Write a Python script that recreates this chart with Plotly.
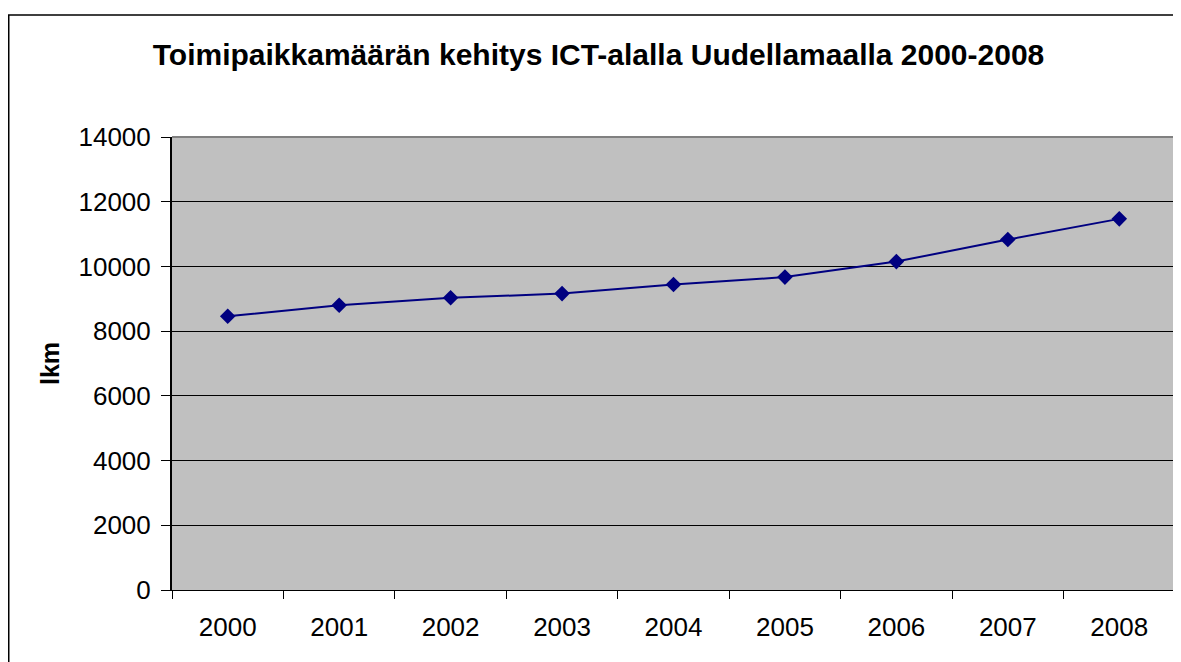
import plotly.graph_objects as go

years = ["2000", "2001", "2002", "2003", "2004", "2005", "2006", "2007", "2008"]
counts = [8460, 8800, 9030, 9160, 9440, 9670, 10150, 10830, 11470]
y_ticks = [0, 2000, 4000, 6000, 8000, 10000, 12000, 14000]

title_text = "Toimipaikkamäärän kehitys ICT-alalla Uudellamaalla 2000-2008"
y_title = "lkm"

font_family = "Liberation Sans, Arial, sans-serif"

W, H = 1181, 662
L, T, R, B = 164, 129, 14, 80
PW, PH = W - L - R, H - T - B

fig = go.Figure()
fig.add_trace(go.Scatter(
    x=years, y=counts, mode="lines+markers",
    line=dict(color="#000080", width=2),
    marker=dict(symbol="diamond", size=12, color="#000080"),
    showlegend=False,
))

fig.update_layout(
    width=W, height=H,
    paper_bgcolor="white", plot_bgcolor="#C0C0C0",
    margin=dict(l=L, r=R, t=T, b=B),
    font=dict(family=font_family, color="black", size=26),
    title=dict(text="<b>" + title_text + "</b>", x=0.5, xanchor="center",
               xref="container", y=1 - 46/H, yanchor="middle",
               font=dict(size=30, family=font_family, color="black")),
    xaxis=dict(type="category", tickson="boundaries", ticks="outside", ticklen=8,
               tickcolor="black", showline=True, linecolor="black", linewidth=1,
               showgrid=False, tickfont=dict(size=26), range=[-0.5, 8.5],
               ticklabelstandoff=14),
    yaxis=dict(range=[0, 14000], tickvals=y_ticks, ticktext=[str(v) for v in y_ticks],
               ticks="outside", ticklen=9,
               tickcolor="black", showline=True, linecolor="black", linewidth=2,
               showgrid=True, gridcolor="black", gridwidth=1, zeroline=False,
               tickfont=dict(size=26), ticklabelstandoff=5,
               title=dict(text="<b>" + y_title + "</b>", font=dict(size=25), standoff=12)),
    shapes=[
        dict(type="line", xref="paper", yref="paper", x0=0, x1=1, y0=1, y1=1,
             line=dict(color="#808080", width=2), layer="above"),
        dict(type="line", xref="paper", yref="paper", x0=1, x1=1, y0=0, y1=1,
             line=dict(color="#808080", width=2), layer="above"),
        dict(type="rect", xref="paper", yref="paper",
             x0=(0.75 - L) / PW, x1=1.2, y0=-0.5, y1=1 + (T - 7) / PH,
             line=dict(color="black", width=1.5)),
    ],
)

fig.write_html("out.html")
